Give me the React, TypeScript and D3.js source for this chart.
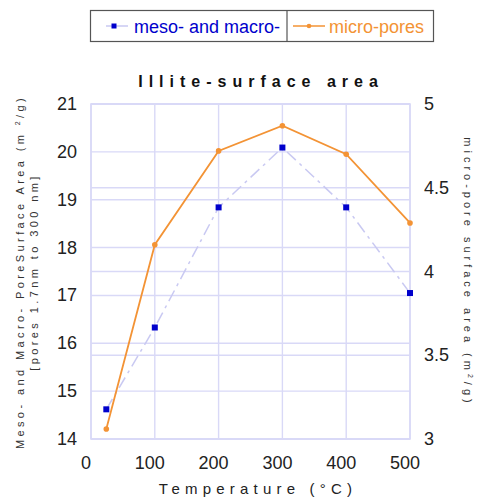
import React from "react";
import * as d3 from "d3";

const temperatures = [24, 100, 200, 300, 400, 500];
const mesoMacro = [14.62, 16.33, 18.84, 20.09, 18.84, 17.05];
const microPores = [3.06, 4.16, 4.72, 4.87, 4.70, 4.29];
const xTicks = [0, 100, 200, 300, 400, 500];
const leftTicks = [14, 15, 16, 17, 18, 19, 20, 21];
const rightTicks = [3, 3.5, 4, 4.5, 5];
const rightTickLabels = ["3", "3.5", "4", "4.5", "5"];

const W = 494, H = 499;
const L = 91, R = 410, T = 104, B = 439;

const BLUE = "#0000cc";
const LAV = "#c9c9f2";
const GRID = "#d9d9f7";
const ORANGE = "#f39335";
const FONT = "'Liberation Sans', Arial, sans-serif";

export default function App() {
  const x = d3.scaleLinear().domain([0, 500]).range([L, R]);
  const yL = d3.scaleLinear().domain([14, 21]).range([B, T]);
  const yR = d3.scaleLinear().domain([3, 5]).range([B, T]);

  const mesoLine = d3.line<number>().x((_, i) => x(temperatures[i])).y((d) => yL(d));
  const microLine = d3.line<number>().x((_, i) => x(temperatures[i])).y((d) => yR(d));

  return (
    <svg width={W} height={H} style={{ position: "absolute", left: 0, top: 0, background: "#fff" }} fontFamily={FONT}>
      {/* legend */}
      <rect x={90.5} y={10.5} width={343} height={31} fill="#fff" stroke="#555" strokeWidth={1.2} />
      <line x1={287} x2={287} y1={10.5} y2={41.5} stroke="#555" strokeWidth={1.2} />
      <line x1={106} x2={128} y1={26} y2={26} stroke={LAV} strokeWidth={1.5} />
      <rect x={111.5} y={23.5} width={5} height={5} fill={BLUE} />
      <text x={134} y={33} fontSize={18} fill={BLUE}>meso- and macro-</text>
      <line x1={293} x2={325} y1={26} y2={26} stroke={ORANGE} strokeWidth={1.5} />
      <circle cx={309} cy={26} r={2.3} fill={ORANGE} />
      <text x={329} y={33} fontSize={18} fill={ORANGE}>micro-pores</text>

      {/* title */}
      <text x={261} y={87} fontSize={16} fontWeight="bold" textAnchor="middle" letterSpacing={6} fill="#111">Illite-surface area</text>

      {/* grid */}
      {leftTicks.map((t) => (
        <line key={"gl" + t} x1={L} x2={R} y1={yL(t)} y2={yL(t)} stroke={GRID} strokeWidth={1.4} />
      ))}
      {rightTicks.map((t) => (
        <line key={"gr" + t} x1={L} x2={R} y1={yR(t)} y2={yR(t)} stroke={GRID} strokeWidth={1.4} />
      ))}
      {xTicks.map((t) => (
        <line key={"gx" + t} x1={x(t)} x2={x(t)} y1={T} y2={B} stroke={GRID} strokeWidth={1.4} />
      ))}
      <rect x={L} y={T} width={R - L} height={B - T} fill="none" stroke={GRID} strokeWidth={1.6} />

      {/* series */}
      <path d={mesoLine(mesoMacro) || ""} fill="none" stroke={LAV} strokeWidth={1.5} strokeDasharray="12,5,3,5" />
      <path d={microLine(microPores) || ""} fill="none" stroke={ORANGE} strokeWidth={1.8} />
      {mesoMacro.map((v, i) => (
        <rect key={"m" + i} x={x(temperatures[i]) - 3} y={yL(v) - 3} width={6} height={6} fill={BLUE} />
      ))}
      {microPores.map((v, i) => (
        <circle key={"o" + i} cx={x(temperatures[i])} cy={yR(v)} r={2.8} fill={ORANGE} />
      ))}

      {/* tick labels */}
      {leftTicks.map((t) => (
        <text key={"tl" + t} x={77} y={yL(t) + 6} fontSize={18} textAnchor="end" fill="#222">{t}</text>
      ))}
      {rightTicks.map((t, i) => (
        <text key={"tr" + t} x={424} y={yR(t) + 6} fontSize={18} textAnchor="start" fill="#222">{rightTickLabels[i]}</text>
      ))}
      {xTicks.map((t) => (
        <text key={"tx" + t} x={x(t) - 5} y={469} fontSize={18} textAnchor="middle" fill="#222">{t}</text>
      ))}

      {/* axis titles */}
      <text x={258} y={494} fontSize={15} textAnchor="middle" letterSpacing={5.2} fill="#222">Temperature (°C)</text>
      <g transform="translate(24,272) rotate(-90)">
        <text x={0} y={0} fontSize={11} textAnchor="middle" letterSpacing={3.4} fill="#333">
          Meso- and Macro- PoreSurface Area (m <tspan fontSize={7} dy={-4}>2</tspan><tspan dy={4}>/g)</tspan>
        </text>
        <text x={0} y={14} fontSize={11} textAnchor="middle" letterSpacing={3.4} fill="#333">[pores 1.7nm to 300 nm]</text>
      </g>
      <g transform="translate(464,272) rotate(90)">
        <text x={0} y={0} fontSize={11} textAnchor="middle" letterSpacing={4} fill="#333">
          micro-pore surface area (m<tspan fontSize={7} dy={-4}>2</tspan><tspan dy={4}>/g)</tspan>
        </text>
      </g>
    </svg>
  );
}
